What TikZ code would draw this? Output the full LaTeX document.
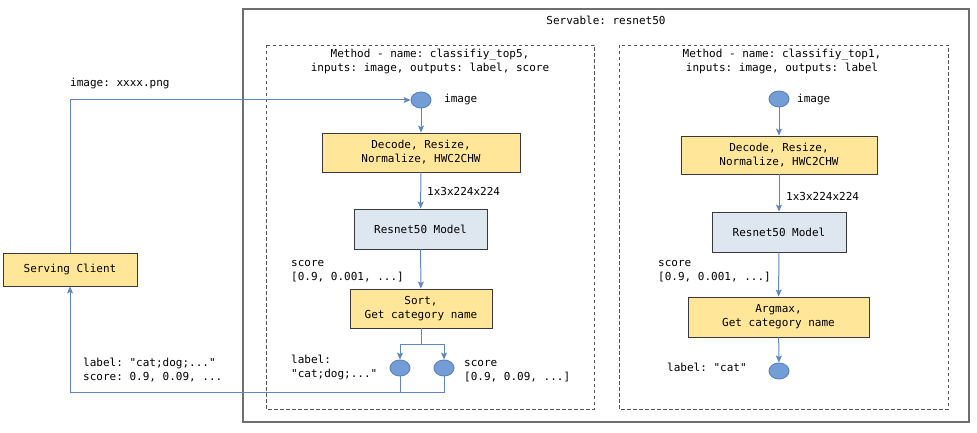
\documentclass[tikz,border=0pt]{standalone}
\usepackage{fontspec}
\setmonofont{DejaVu Sans Mono}
\usetikzlibrary{arrows.meta,shapes.geometric}
\definecolor{lineblue}{HTML}{5F86BF}
\definecolor{ellstroke}{HTML}{5A82BA}
\definecolor{ellfill}{HTML}{729DD6}
\definecolor{yel}{HTML}{FFE699}
\definecolor{gbl}{HTML}{DEE6F0}
\definecolor{boxline}{HTML}{36393D}
\definecolor{outerc}{HTML}{6E6E6E}
\tikzset{
  txt/.style={font=\fontsize{11}{14}\selectfont\ttfamily, inner sep=0pt, align=left},
  ctxt/.style={font=\fontsize{11}{14}\selectfont\ttfamily, inner sep=0pt, align=center},
  yelbox/.style={ctxt, draw=boxline, fill=yel, line width=0.9pt},
  bluebox/.style={ctxt, draw=boxline, fill=gbl, line width=0.9pt},
  port/.style={ellipse, draw=ellstroke, fill=ellfill, line width=0.9pt, minimum width=20pt, minimum height=16pt, inner sep=0pt},
  conn/.style={draw=lineblue, line width=1pt, -{Stealth[length=7pt,width=6pt,inset=1.5pt]}},
  wire/.style={draw=lineblue, line width=1pt},
  methodbox/.style={draw=boxline!85, line width=0.9pt, dash pattern=on 3.5pt off 2.5pt},
}
\begin{document}
\begin{tikzpicture}[x=1pt,y=-1pt]
\useasboundingbox (0,0) rectangle (977,433);
% outer servable
\draw[outerc, line width=1.3pt] (243,9) rectangle (969,422);
\node[ctxt] (servtitle) at (606,20) {Servable: resnet50};
% method boxes
\draw[methodbox] (266,45) rectangle (594,409);
\draw[methodbox] (619,45) rectangle (948,409);
\node[ctxt] (m1title) at (430,61) {Method - name: classifiy\_top5,\\inputs: image, outputs: label, score};
\node[ctxt] (m2title) at (782,61) {Method - name: classifiy\_top1,\\inputs: image, outputs: label};

% client
\node[yelbox, minimum width=134pt, minimum height=33pt] (client) at (70,269.5) {Serving Client};
\node[txt, anchor=west] (imgtxt) at (70,84) {image: xxxx.png};
\node[txt, anchor=west] (rettxt) at (83,370.5) {label: "cat;dog;..."\\score: 0.9, 0.09, ...};

% left column
\node[port] (img1) at (421,100) {};
\node[txt, anchor=west] (img1l) at (444,100) {image};
\node[yelbox, minimum width=198pt, minimum height=39pt] (dec1) at (421,152.5) {Decode, Resize,\\Normalize, HWC2CHW};
\node[txt, anchor=west] (sz1) at (427,191) {1x3x224x224};
\node[bluebox, minimum width=133pt, minimum height=40pt] (res1) at (420.5,229) {Resnet50 Model};
\node[txt, anchor=west] (sc1) at (291,271) {score\\{}[0.9, 0.001, ...]};
\node[yelbox, minimum width=142pt, minimum height=39pt] (sort1) at (421,308.5) {Sort,\\Get category name};
\node[port] (outl) at (400,368) {};
\node[port] (outs) at (444,368) {};
\node[txt, anchor=west] (labl) at (291,367) {label:\\"cat;dog;..."};
\node[txt, anchor=west] (scl) at (464,371) {score\\{}[0.9, 0.09, ...]};

% right column
\node[port] (img2) at (779,99) {};
\node[txt, anchor=west] (img2l) at (797,100) {image};
\node[yelbox, minimum width=196pt, minimum height=38pt] (dec2) at (779,155) {Decode, Resize,\\Normalize, HWC2CHW};
\node[txt, anchor=west] (sz2) at (786,196) {1x3x224x224};
\node[bluebox, minimum width=134pt, minimum height=40pt] (res2) at (779,232) {Resnet50 Model};
\node[txt, anchor=west] (sc2) at (658,271) {score\\{}[0.9, 0.001, ...]};
\node[yelbox, minimum width=181pt, minimum height=40pt] (arg2) at (778.5,317) {Argmax,\\Get category name};
\node[port] (out2) at (779,371) {};
\node[txt, anchor=west] (lab2) at (667,367) {label: "cat"};

% connectors
\coordinate (ret) at (70,392);
\coordinate (br1) at (421,344);
\draw[conn] (client.north) |- (img1.west);
\draw[conn] (img1) -- (dec1);
\draw[conn] (dec1) -- (res1);
\draw[conn] (res1) -- (sort1);
\draw[conn] (sort1.south) -- (br1) -| (outl.north);
\draw[conn] (br1) -| (outs.north);
\draw[conn] (outs.south) |- (ret) -- (client.south);
\draw[wire] (outl.south) -- (outl.south |- ret);
\draw[conn] (img2) -- (dec2);
\draw[conn] (dec2) -- (res2);
\draw[conn] (res2) -- (arg2);
\draw[conn] (arg2) -- (out2);
\end{tikzpicture}
\end{document}
